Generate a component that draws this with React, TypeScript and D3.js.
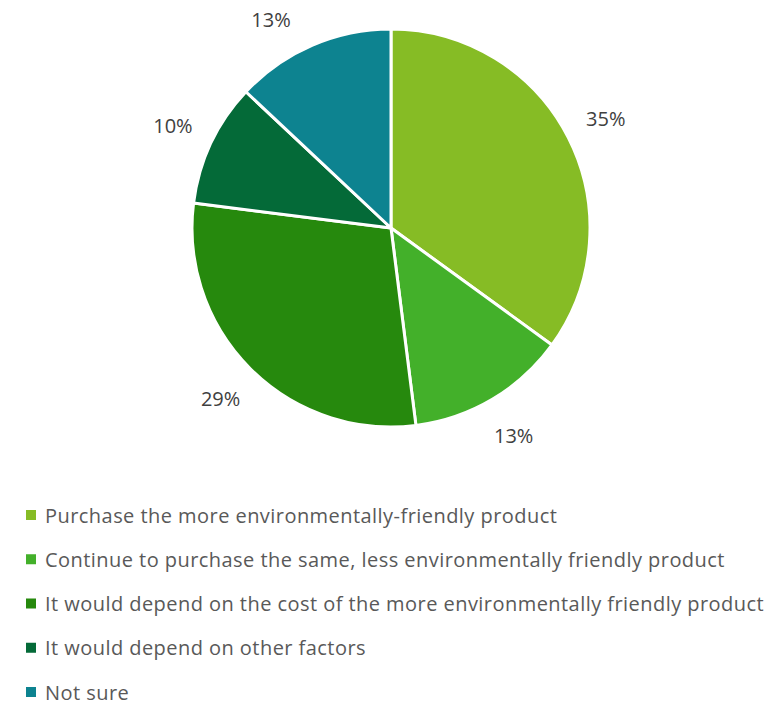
import React from "react";
import * as d3 from "d3";

const categories = [
  "Purchase the more environmentally-friendly product",
  "Continue to purchase the same, less environmentally friendly product",
  "It would depend on the cost of the more environmentally friendly product",
  "It would depend on other factors",
  "Not sure",
];
const values = [35, 13, 29, 10, 13];
const colors = ["#86BC25", "#43B02A", "#26890D", "#046A38", "#0D8390"];

export default function App() {
  const W = 777, H = 704;
  const cx = 391, cy = 228, r = 199;
  const labelR = 241;
  const minLabelY = 19;
  const pie = d3.pie<number>().sort(null).value((d) => d);
  const arcs = pie(values);
  const arc = d3.arc<d3.PieArcDatum<number>>().innerRadius(0).outerRadius(r);
  const legendY = d3.scalePoint<number>().domain(d3.range(categories.length)).range([515, 692]);
  const font = "'Open Sans', sans-serif";
  const labelPos = (a: d3.PieArcDatum<number>) => {
    const mid = (a.startAngle + a.endAngle) / 2;
    let x = labelR * Math.sin(mid);
    let y = -labelR * Math.cos(mid);
    if (cy + y < minLabelY) {
      y = minLabelY - cy;
      const dx = Math.sqrt(labelR * labelR - y * y);
      x = Math.sign(x) * dx;
    }
    return [x, y];
  };
  return (
    <svg width={W} height={H} style={{ position: "absolute", left: 0, top: 0, background: "#fff" }}>
      <g transform={`translate(${cx},${cy})`}>
        {arcs.map((a, i) => (
          <path key={i} d={arc(a) || ""} fill={colors[i]} stroke="#fff" strokeWidth={3} strokeLinejoin="round" />
        ))}
        {arcs.map((a, i) => {
          const [x, y] = labelPos(a);
          return (
            <text key={i} x={x} y={y} textAnchor="middle" dominantBaseline="central" fontFamily={font} fontSize={20} fill="#404040">
              {`${values[i]}%`}
            </text>
          );
        })}
      </g>
      {categories.map((c, i) => (
        <g key={i} transform={`translate(0,${legendY(i)})`}>
          <rect x={26} y={-5} width={10} height={10} fill={colors[i]} />
          <text x={45} y={0} dominantBaseline="central" fontFamily={font} fontSize={20} letterSpacing={0.45} fill="#595959">
            {c}
          </text>
        </g>
      ))}
    </svg>
  );
}
